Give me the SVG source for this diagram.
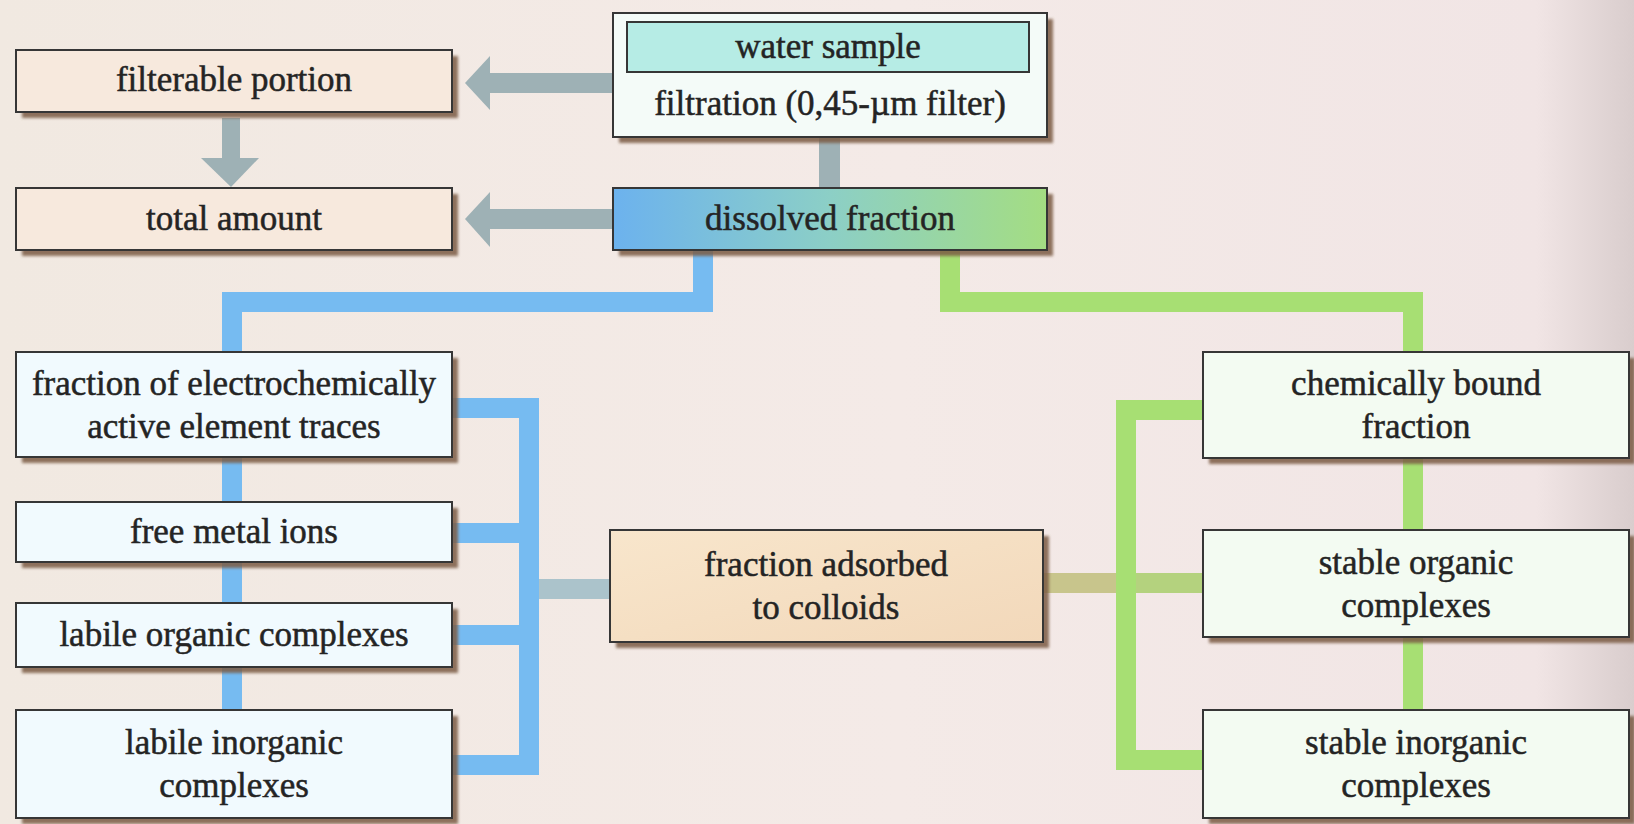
<svg xmlns="http://www.w3.org/2000/svg" width="1634" height="824" viewBox="0 0 1634 824">
  <defs>
    <style>
      .box { stroke: #363636; stroke-width: 2; }
      .shadow { fill: #7b5c45; opacity: 0.85; filter: url(#soft); }
      .lbl { font-family: "Liberation Serif", "Times New Roman", serif; font-size: 35px; fill: #242424; stroke: #242424; stroke-width: 0.5px; text-anchor: middle; }
      .peach { fill: #f7e9dd; }
      .blueish { fill: #f1fafe; }
      .greenish { fill: #f3fbf2; }
      .gray { fill: #9eb1b5; }
      .wire { fill: none; stroke-width: 20; stroke-linejoin: miter; stroke-linecap: butt; }
      .blue { stroke: #76bbf1; }
      .green { stroke: #a7df73; }
    </style>
    <linearGradient id="paper" x1="0" y1="0" x2="1" y2="0">
      <stop offset="0" stop-color="#f1e9e1"/>
      <stop offset="0.55" stop-color="#f4eae7"/>
      <stop offset="0.94" stop-color="#f1e5e5"/>
      <stop offset="1" stop-color="#d9cdcd"/>
    </linearGradient>
    <linearGradient id="dissolvedFill" x1="0" y1="0" x2="1" y2="0">
      <stop offset="0" stop-color="#6cb2ee"/>
      <stop offset="0.5" stop-color="#8ccfc6"/>
      <stop offset="1" stop-color="#a4dd82"/>
    </linearGradient>
    <linearGradient id="colloidFill" x1="0" y1="0" x2="1" y2="1">
      <stop offset="0" stop-color="#f8e6cc"/>
      <stop offset="1" stop-color="#f2d8ba"/>
    </linearGradient>
    <filter id="soft" x="-5%" y="-20%" width="110%" height="140%">
      <feGaussianBlur stdDeviation="1.5"/>
    </filter>
  </defs>

  <!-- paper -->
  <rect x="0" y="0" width="1634" height="824" fill="url(#paper)"/>

  <!-- connectors -->
  <g id="connectors">
    <!-- grey flow arrows -->
    <rect class="gray" x="487" y="73" width="126" height="20"/>
    <polygon class="gray" points="465,83 490,56 490,110"/>
    <rect class="gray" x="487" y="209" width="126" height="20"/>
    <polygon class="gray" points="465,219 490,192 490,247"/>
    <rect class="gray" x="222" y="118" width="18" height="42"/>
    <polygon class="gray" points="201,158 259,158 231,187"/>
    <rect class="gray" x="819" y="137" width="21" height="51"/>

    <!-- blue branch -->
    <path class="wire blue" d="M703,250 V302 H232 V712"/>
    <path class="wire blue" d="M452,408 H529 V765 H452"/>
    <path class="wire blue" d="M452,533 H529"/>
    <path class="wire blue" d="M452,635 H529"/>
    <path class="wire" stroke="#abc3cb" d="M539,589 H610"/>

    <!-- green branch -->
    <path class="wire green" d="M950,250 V302 H1413 V712"/>
    <path class="wire green" d="M1203,410 H1126 V760 H1203"/>
    <path class="wire" stroke="#b4d27e" d="M1136,583 H1203"/>
    <path class="wire" stroke="#c8c58c" d="M1043,583 H1116"/>
  </g>

  <!-- nodes -->
  <g id="filterable-portion">
    <rect class="shadow" x="22" y="56" width="436" height="62"/>
    <rect class="box peach" x="16" y="50" width="436" height="62"/>
    <text class="lbl" x="234" y="91">filterable portion</text>
  </g>

  <g id="total-amount">
    <rect class="shadow" x="22" y="194" width="436" height="62"/>
    <rect class="box peach" x="16" y="188" width="436" height="62"/>
    <text class="lbl" x="234" y="230">total amount</text>
  </g>

  <g id="water-sample">
    <rect class="shadow" x="619" y="19" width="434" height="124"/>
    <rect class="box" fill="#f4fbf8" x="613" y="13" width="434" height="124"/>
    <rect class="box" fill="#b6ece5" stroke="#3c5654" x="627" y="22" width="402" height="50"/>
    <text class="lbl" x="828" y="58">water sample</text>
    <text class="lbl" x="830" y="115">filtration (0,45-µm filter)</text>
  </g>

  <g id="dissolved-fraction">
    <rect class="shadow" x="619" y="194" width="434" height="62"/>
    <rect class="box" fill="url(#dissolvedFill)" x="613" y="188" width="434" height="62"/>
    <text class="lbl" x="830" y="230">dissolved fraction</text>
  </g>

  <g id="electrochemically-active">
    <rect class="shadow" x="22" y="358" width="436" height="105"/>
    <rect class="box blueish" x="16" y="352" width="436" height="105"/>
    <text class="lbl" x="234" y="395">fraction of electrochemically</text>
    <text class="lbl" x="234" y="438">active element traces</text>
  </g>

  <g id="free-metal-ions">
    <rect class="shadow" x="22" y="508" width="436" height="60"/>
    <rect class="box blueish" x="16" y="502" width="436" height="60"/>
    <text class="lbl" x="234" y="543">free metal ions</text>
  </g>

  <g id="labile-organic">
    <rect class="shadow" x="22" y="609" width="436" height="64"/>
    <rect class="box blueish" x="16" y="603" width="436" height="64"/>
    <text class="lbl" x="234" y="646">labile organic complexes</text>
  </g>

  <g id="labile-inorganic">
    <rect class="shadow" x="22" y="716" width="436" height="108"/>
    <rect class="box blueish" x="16" y="710" width="436" height="108"/>
    <text class="lbl" x="234" y="754">labile inorganic</text>
    <text class="lbl" x="234" y="797">complexes</text>
  </g>

  <g id="adsorbed-to-colloids">
    <rect class="shadow" x="616" y="536" width="433" height="112"/>
    <rect class="box" fill="url(#colloidFill)" x="610" y="530" width="433" height="112"/>
    <text class="lbl" x="826" y="576">fraction adsorbed</text>
    <text class="lbl" x="826" y="619">to colloids</text>
  </g>

  <g id="chemically-bound">
    <rect class="shadow" x="1209" y="358" width="426" height="106"/>
    <rect class="box greenish" x="1203" y="352" width="426" height="106"/>
    <text class="lbl" x="1416" y="395">chemically bound</text>
    <text class="lbl" x="1416" y="438">fraction</text>
  </g>

  <g id="stable-organic">
    <rect class="shadow" x="1209" y="536" width="426" height="107"/>
    <rect class="box greenish" x="1203" y="530" width="426" height="107"/>
    <text class="lbl" x="1416" y="574">stable organic</text>
    <text class="lbl" x="1416" y="617">complexes</text>
  </g>

  <g id="stable-inorganic">
    <rect class="shadow" x="1209" y="716" width="426" height="108"/>
    <rect class="box greenish" x="1203" y="710" width="426" height="108"/>
    <text class="lbl" x="1416" y="754">stable inorganic</text>
    <text class="lbl" x="1416" y="797">complexes</text>
  </g>
</svg>
